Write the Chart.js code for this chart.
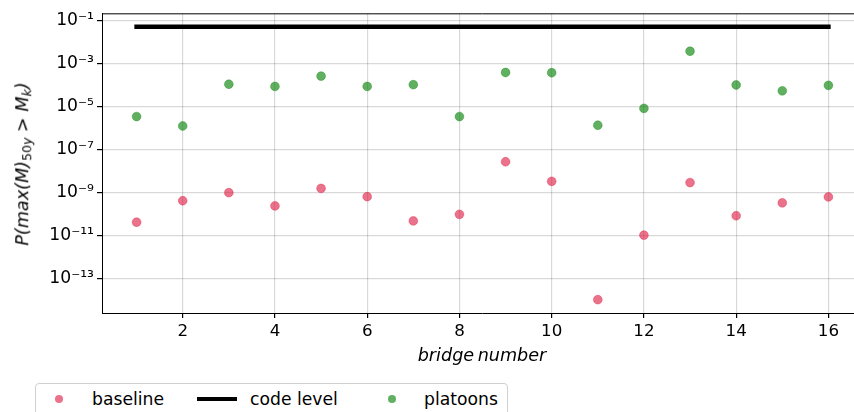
<!DOCTYPE html>
<html>
<head>
<meta charset="utf-8">
<script src="https://cdn.jsdelivr.net/npm/chart.js@4/dist/chart.umd.min.js"></script>
<style>
  html, body { margin:0; padding:0; background:#fff; }
  #wrap { position:relative; width:854px; height:412px; overflow:hidden; font-family:'DejaVu Sans', sans-serif; color:#000; }
  #cv { position:absolute; left:0; top:0; }
  .t { position:absolute; white-space:nowrap; font-size:17.2px; line-height:1; }
  #ytitle { left:24px; top:164px; transform:translate(-50%,-50%) rotate(-90deg); font-style:italic; font-size:17.6px; }
  #ytitle sub { font-size:12.5px; vertical-align:-3px; }
  #xtitle { left:482px; top:356px; transform:translate(-50%,-50%); font-style:italic; font-size:17.6px; }
  #legend { position:absolute; left:35px; top:383px; width:471px; height:40px; border:1px solid #d0d0d0; border-radius:4px; background:#fff; }
  .dot { position:absolute; width:8px; height:8px; border-radius:50%; }
</style>
</head>
<body>
<div id="wrap">
  <canvas id="cv" width="880" height="412"></canvas>
  <div id="ytitle" class="t">P(max(M)<sub><span style="font-style:normal">50</span>y</sub> &gt; M<sub>k</sub>)</div>
  <div id="xtitle" class="t">bridge&#8201;number</div>
  <div id="legend"></div>
  <div class="dot" style="left:55px;top:395px;background:rgba(220,20,60,0.6)"></div>
  <div class="t" style="left:92px;top:391px;">baseline</div>
  <div style="position:absolute;left:197px;top:397px;width:40px;height:4px;background:#000"></div>
  <div class="t" style="left:250px;top:391px;">code level</div>
  <div class="dot" style="left:388px;top:395px;background:rgba(0,128,0,0.62)"></div>
  <div class="t" style="left:424px;top:391px;">platoons</div>
</div>
<script>
const bridges = [1,2,3,4,5,6,7,8,9,10,11,12,13,14,15,16];
const baseline = [4e-11, 4e-10, 9.5e-10, 2.3e-10, 1.5e-9, 6.2e-10, 4.6e-11, 9.3e-11, 2.6e-8, 3.2e-9, 1.0e-14, 1.0e-11, 2.8e-9, 8e-11, 3.2e-10, 6e-10];
const platoons = [3.3e-6, 1.2e-6, 1.05e-4, 8.3e-5, 2.5e-4, 8.3e-5, 1.0e-4, 3.3e-6, 3.7e-4, 3.6e-4, 1.3e-6, 7.9e-6, 3.6e-3, 9.7e-5, 5.2e-5, 9.3e-5];
const codeLevel = 0.05;
const codeLevelRange = [1, 16];
const xTicks = [2,4,6,8,10,12,14,16];
const yTickExponents = [-13,-11,-9,-7,-5,-3,-1];

const sup = {'-':'\u207B','0':'\u2070','1':'\u00B9','2':'\u00B2','3':'\u00B3','4':'\u2074','5':'\u2075','6':'\u2076','7':'\u2077','8':'\u2078','9':'\u2079'};
function pow10Label(v){
  const e = Math.round(Math.log10(v));
  return '10' + String(e).split('').map(c=>sup[c]).join('');
}

const frame = {
  id:'frame',
  afterDraw(chart){
    const a = chart.chartArea, ctx = chart.ctx;
    ctx.save();
    ctx.strokeStyle = '#000'; ctx.lineWidth = 1;
    ctx.beginPath();
    ctx.moveTo(a.left, a.top + 0.5); ctx.lineTo(a.right, a.top + 0.5);
    ctx.stroke();
    ctx.restore();
  }
};

new Chart(document.getElementById('cv'), {
  type:'scatter',
  data:{
    datasets:[
      { label:'baseline', data: bridges.map((b,i)=>({x:b,y:baseline[i]})),
        backgroundColor:'rgba(220,20,60,0.6)', borderColor:'rgba(220,20,60,0.35)', borderWidth:1, pointRadius:4.4 },
      { label:'code level', type:'line', data: codeLevelRange.map(x=>({x:x,y:codeLevel})),
        borderColor:'#000', borderWidth:4.5, pointRadius:0, borderCapStyle:'square', fill:false },
      { label:'platoons', data: bridges.map((b,i)=>({x:b,y:platoons[i]})),
        backgroundColor:'rgba(0,128,0,0.62)', borderColor:'rgba(0,128,0,0.35)', borderWidth:1, pointRadius:4.4 }
    ]
  },
  options:{
    responsive:false, devicePixelRatio:1, animation:false,
    layout:{ padding:{ left:0, top:13, right:17, bottom:0 } },
    plugins:{ legend:{display:false}, tooltip:{enabled:false} },
    scales:{
      x:{
        type:'linear', min:0.25, max:16.75,
        afterBuildTicks(s){ s.ticks = xTicks.map(v=>({value:v})); },
        afterFit(s){ s.height = 99; },
        grid:{ color:'rgba(0,0,0,0.15)', lineWidth:1.2, tickLength:5, tickColor:'#000' },
        border:{ display:true, color:'#000', width:1 },
        ticks:{ color:'#000', padding:4, font:{ family:'DejaVu Sans', size:16.7 }, maxRotation:0, autoSkip:false }
      },
      y:{
        type:'logarithmic', min:Math.pow(10,-14.62), max:Math.pow(10,-0.68),
        afterBuildTicks(s){ s.ticks = yTickExponents.map(e=>({value:Math.pow(10,e)})); },
        afterFit(s){ s.width = 102; },
        grid:{ color:'rgba(0,0,0,0.15)', lineWidth:1.2, tickLength:5, tickColor:'#000' },
        border:{ display:true, color:'#000', width:1 },
        ticks:{ color:'#000', padding:3, font:{ family:'DejaVu Sans', size:17.2 }, autoSkip:false,
          callback:(v)=>pow10Label(v) }
      }
    }
  },
  plugins:[frame]
});
</script>
</body>
</html>
